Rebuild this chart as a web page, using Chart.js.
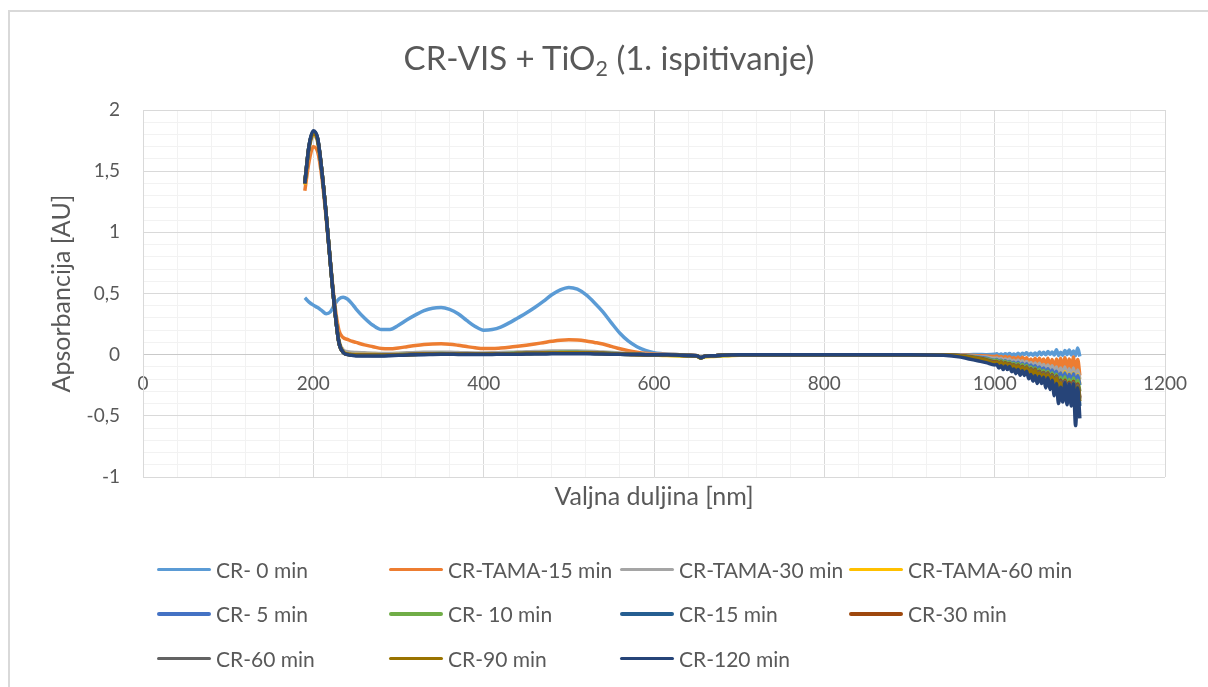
<!DOCTYPE html>
<html>
<head>
<meta charset="utf-8">
<script src="https://cdn.jsdelivr.net/npm/chart.js@4.4.1/dist/chart.umd.min.js"></script>
<style>
  html, body { margin: 0; padding: 0; background: #fff; }
  body { width: 1208px; height: 687px; position: relative; overflow: hidden; font-family: Lato, "Open Sans", sans-serif; color: #595959; }
  #frame { position: absolute; left: 8px; top: 10px; width: 1300px; height: 800px; border-left: 2px solid #d9d9d9; border-top: 2px solid #d9d9d9; }
  #c { position: absolute; left: 0; top: 0; }
  #title { position: absolute; left: 0; width: 1218px; top: 38px; line-height: 38px; text-align: center; font-size: 33px; }
  #title sub { font-size: 0.65em; vertical-align: -0.3em; line-height: 0; }
  #legend { position: absolute; left: 157px; top: 547px; display: grid; grid-template-columns: 232px 231px 229px 240px; grid-auto-rows: 44.5px; font-size: 21px; }
  #legend .item { display: flex; align-items: center; white-space: nowrap; }
  #legend .sw { width: 54px; height: 3.5px; border-radius: 2px; margin-right: 5px; }
</style>
</head>
<body>
<div id="frame"></div>
<canvas id="c" width="1208" height="687"></canvas>
<div id="title">CR-VIS + TiO<sub>2</sub> (1. ispitivanje)</div>
<div id="legend"></div>
<script>
// ******************************************************** DATA

var wavelengths = [
  190, 195, 200, 205, 210, 215, 220, 225, 230, 235, 240, 245, 250,
  260, 270, 280, 290, 300, 310, 320, 330, 340, 350, 360, 370, 380, 390, 400, 410, 420, 430,
  440, 450, 460, 470, 480, 490, 500, 510, 520, 530, 540, 550, 560, 570, 580, 590, 600, 610,
  620, 630, 640, 650,
  655, 660, 670, 680, 700, 750, 800, 850, 900, 940,
  960, 970, 980, 990, 1000,
  1002.5, 1005, 1007.5, 1010, 1012.5, 1015, 1017.5, 1020, 1022.5, 1025,
  1027.5, 1030, 1032.5, 1035, 1037.5, 1040, 1042.5, 1045, 1047.5, 1050,
  1052.5, 1055, 1057.5, 1060, 1062.5, 1065, 1067.5, 1070, 1072.5, 1075,
  1077.5, 1080, 1082.5, 1085, 1087.5, 1090, 1092.5, 1095, 1097.5, 1100
];

var seriesNames = ["CR- 0 min", "CR-TAMA-15 min", "CR-TAMA-30 min", "CR-TAMA-60 min",
  "CR- 5 min", "CR- 10 min", "CR-15 min", "CR-30 min", "CR-60 min", "CR-90 min", "CR-120 min"];
var seriesColors = ["#5b9bd5", "#ed7d31", "#a5a5a5", "#ffc000", "#4472c4", "#70ad47",
  "#255e91", "#9e480e", "#636363", "#997300", "#264478"];

var cr0 = [
  0.465, 0.43, 0.405, 0.385, 0.36, 0.335, 0.35, 0.41, 0.455, 0.47, 0.455, 0.42, 0.375,
  0.30, 0.24, 0.205, 0.205, 0.24, 0.285, 0.325, 0.36, 0.38, 0.385, 0.37, 0.335, 0.28, 0.23, 0.2,
  0.205, 0.225, 0.26, 0.3, 0.34, 0.385, 0.435, 0.49, 0.53, 0.55, 0.535, 0.49, 0.425, 0.35, 0.26,
  0.175, 0.11, 0.065, 0.035, 0.016, 0.008, 0.003, 0, -0.003, -0.006,
  -0.025, -0.012, -0.008, -0.004, 0, 0, 0, 0, 0, 0,
  0, 0, 0.002, 0, 0.003,
  0.007, -0.004, 0.005, -0.006, 0.008, -0.002, 0.01, -0.004, 0.005, -0.005,
  0.011, -0.004, 0.012, 0.001, 0.015, -0.003, 0.012, -0.004, 0.014, -0.005,
  0.022, 0, 0.02, -0.001, 0.025, 0.003, 0.022, -0.003, 0.04, -0.006,
  0.02, -0.005, 0.035, 0, 0.038, -0.002, 0.03, -0.008, 0.055, -0.015
];
var tama15 = [
  1.34, 1.58, 1.7, 1.66, 1.45, 1.12, 0.76, 0.42, 0.2, 0.14, 0.125, 0.11, 0.1,
  0.08, 0.065, 0.05, 0.048, 0.055, 0.065, 0.075, 0.083, 0.088, 0.09, 0.086, 0.077, 0.066, 0.056, 0.05,
  0.05, 0.054, 0.06, 0.068, 0.077, 0.087, 0.098, 0.109, 0.118, 0.122, 0.12, 0.112, 0.1, 0.087, 0.068,
  0.048, 0.032, 0.02, 0.011, 0.006, 0.003, 0.001, -0.001, -0.004, -0.007,
  -0.024, -0.012, -0.008, -0.004, 0, 0, 0, 0, 0, 0,
  -0.003, -0.005, -0.008, -0.01, -0.015,
  -0.011, -0.024, -0.015, -0.028, -0.016, -0.027, -0.018, -0.034, -0.024, -0.045,
  -0.02, -0.045, -0.022, -0.042, -0.025, -0.06, -0.035, -0.068, -0.03, -0.075,
  -0.03, -0.07, -0.035, -0.09, -0.03, -0.1, -0.04, -0.12, -0.035, -0.14,
  -0.03, -0.13, -0.025, -0.16, -0.035, -0.15, -0.02, -0.19, -0.04, -0.17
];
var tama30 = [
  1.4, 1.68, 1.79, 1.74, 1.49, 1.15, 0.76, 0.39, 0.12, 0.04, 0.025, 0.02, 0.018,
  0.015, 0.012, 0.01, 0.01, 0.012, 0.015, 0.017, 0.019, 0.02, 0.02, 0.019, 0.017, 0.015, 0.014, 0.014,
  0.015, 0.017, 0.019, 0.021, 0.023, 0.025, 0.027, 0.029, 0.03, 0.03, 0.03, 0.028, 0.025, 0.021, 0.017,
  0.013, 0.009, 0.006, 0.003, 0.001, 0, -0.002, -0.004, -0.006, -0.008,
  -0.025, -0.012, -0.008, -0.004, 0, 0, 0, 0, 0, 0,
  -0.005, -0.01, -0.015, -0.02, -0.03,
  -0.027, -0.04, -0.03, -0.046, -0.035, -0.045, -0.036, -0.056, -0.045, -0.068,
  -0.044, -0.07, -0.05, -0.075, -0.055, -0.09, -0.065, -0.1, -0.068, -0.108,
  -0.07, -0.11, -0.08, -0.125, -0.085, -0.13, -0.09, -0.15, -0.1, -0.17,
  -0.11, -0.17, -0.1, -0.19, -0.115, -0.19, -0.11, -0.21, -0.125, -0.2
];
var tama60 = [
  1.39, 1.69, 1.8, 1.75, 1.5, 1.15, 0.75, 0.38, 0.11, 0.025, 0.008, 0.004, 0.002,
  0.002, 0.001, 0, 0, 0.001, 0.002, 0.004, 0.005, 0.006, 0.007, 0.006, 0.005, 0.004, 0.004, 0.004,
  0.005, 0.006, 0.007, 0.008, 0.009, 0.01, 0.011, 0.012, 0.013, 0.013, 0.013, 0.012, 0.01, 0.008, 0.006,
  0.004, 0.002, 0, -0.002, -0.004, -0.006, -0.008, -0.01, -0.012, -0.014,
  -0.028, -0.018, -0.014, -0.01, -0.004, -0.001, 0, 0, 0, -0.002,
  -0.008, -0.015, -0.025, -0.035, -0.05,
  -0.045, -0.06, -0.048, -0.066, -0.055, -0.068, -0.058, -0.08, -0.068, -0.095,
  -0.068, -0.1, -0.075, -0.105, -0.08, -0.125, -0.095, -0.135, -0.1, -0.145,
  -0.105, -0.15, -0.115, -0.165, -0.12, -0.17, -0.13, -0.19, -0.14, -0.21,
  -0.15, -0.21, -0.14, -0.23, -0.155, -0.23, -0.15, -0.25, -0.165, -0.24
];
var cr5 = [
  1.4, 1.7, 1.81, 1.76, 1.5, 1.15, 0.75, 0.38, 0.1, 0.02, 0.004, 0.001, 0,
  0, 0, -0.002, -0.002, 0, 0.002, 0.004, 0.006, 0.007, 0.008, 0.007, 0.006, 0.005, 0.005, 0.005,
  0.006, 0.007, 0.008, 0.01, 0.011, 0.012, 0.014, 0.015, 0.016, 0.017, 0.017, 0.016, 0.014, 0.012, 0.009,
  0.006, 0.004, 0.002, 0, -0.001, -0.002, -0.003, -0.005, -0.006, -0.008,
  -0.025, -0.012, -0.008, -0.004, 0, 0, 0, 0, 0, -0.001,
  -0.006, -0.012, -0.02, -0.03, -0.045,
  -0.04, -0.056, -0.045, -0.062, -0.05, -0.065, -0.055, -0.075, -0.062, -0.09,
  -0.063, -0.095, -0.07, -0.1, -0.075, -0.115, -0.085, -0.125, -0.09, -0.13,
  -0.1, -0.14, -0.11, -0.16, -0.115, -0.165, -0.125, -0.185, -0.135, -0.21,
  -0.15, -0.22, -0.15, -0.24, -0.16, -0.24, -0.155, -0.26, -0.17, -0.25
];
var cr10 = [
  1.41, 1.71, 1.82, 1.76, 1.5, 1.15, 0.75, 0.38, 0.1, 0.02, 0.003, 0, 0,
  0, -0.002, -0.003, -0.002, 0, 0.002, 0.004, 0.006, 0.008, 0.009, 0.008, 0.007, 0.006, 0.005, 0.005,
  0.006, 0.008, 0.01, 0.012, 0.013, 0.015, 0.016, 0.018, 0.019, 0.02, 0.019, 0.018, 0.016, 0.013, 0.01,
  0.007, 0.004, 0.002, 0, -0.001, -0.003, -0.005, -0.007, -0.009, -0.011,
  -0.027, -0.015, -0.011, -0.007, -0.002, 0, 0, 0, 0, -0.002,
  -0.008, -0.015, -0.025, -0.035, -0.05,
  -0.045, -0.062, -0.05, -0.07, -0.056, -0.072, -0.062, -0.085, -0.07, -0.1,
  -0.072, -0.108, -0.08, -0.115, -0.088, -0.135, -0.1, -0.145, -0.108, -0.15,
  -0.12, -0.165, -0.13, -0.19, -0.135, -0.2, -0.15, -0.22, -0.16, -0.245,
  -0.185, -0.26, -0.18, -0.28, -0.2, -0.28, -0.19, -0.3, -0.21, -0.3
];
var cr15 = [
  1.4, 1.71, 1.82, 1.77, 1.5, 1.15, 0.75, 0.38, 0.1, 0.02, 0.002, -0.002, -0.005,
  -0.006, -0.007, -0.007, -0.005, -0.003, -0.001, 0.001, 0.003, 0.004, 0.005, 0.005, 0.004, 0.003, 0.003, 0.003,
  0.004, 0.005, 0.006, 0.007, 0.008, 0.009, 0.01, 0.011, 0.012, 0.012, 0.012, 0.011, 0.009, 0.007, 0.005,
  0.003, 0.002, 0.001, 0, -0.001, -0.002, -0.003, -0.005, -0.006, -0.008,
  -0.025, -0.012, -0.008, -0.004, 0, 0, 0, 0, 0, -0.002,
  -0.009, -0.018, -0.03, -0.05, -0.07,
  -0.064, -0.082, -0.07, -0.09, -0.078, -0.094, -0.085, -0.108, -0.095, -0.125,
  -0.1, -0.132, -0.108, -0.14, -0.11, -0.16, -0.125, -0.17, -0.135, -0.185,
  -0.145, -0.2, -0.15, -0.23, -0.16, -0.24, -0.17, -0.29, -0.18, -0.32,
  -0.21, -0.33, -0.22, -0.37, -0.23, -0.38, -0.22, -0.43, -0.25, -0.42
];
var cr30 = [
  1.4, 1.7, 1.81, 1.76, 1.5, 1.15, 0.75, 0.38, 0.1, 0.02, 0.003, 0, -0.002,
  -0.003, -0.004, -0.004, -0.003, -0.001, 0.001, 0.003, 0.005, 0.006, 0.007, 0.007, 0.006, 0.005, 0.004, 0.004,
  0.005, 0.006, 0.008, 0.009, 0.011, 0.012, 0.013, 0.015, 0.016, 0.016, 0.016, 0.015, 0.013, 0.011, 0.008,
  0.005, 0.003, 0.001, 0, -0.001, -0.002, -0.004, -0.005, -0.007, -0.009,
  -0.026, -0.013, -0.009, -0.005, -0.001, 0, 0, 0, 0, -0.002,
  -0.009, -0.017, -0.028, -0.042, -0.06,
  -0.055, -0.07, -0.06, -0.078, -0.066, -0.082, -0.072, -0.096, -0.082, -0.112,
  -0.085, -0.12, -0.095, -0.13, -0.1, -0.15, -0.115, -0.16, -0.12, -0.17,
  -0.135, -0.185, -0.145, -0.21, -0.15, -0.22, -0.165, -0.25, -0.175, -0.28,
  -0.21, -0.3, -0.21, -0.33, -0.225, -0.33, -0.22, -0.36, -0.24, -0.35
];
var cr60 = [
  1.41, 1.71, 1.82, 1.77, 1.5, 1.15, 0.75, 0.38, 0.1, 0.02, 0.002, -0.002, -0.004,
  -0.005, -0.006, -0.006, -0.004, -0.002, 0, 0.002, 0.004, 0.005, 0.006, 0.006, 0.005, 0.004, 0.003, 0.003,
  0.004, 0.005, 0.007, 0.008, 0.009, 0.011, 0.012, 0.013, 0.014, 0.014, 0.014, 0.013, 0.011, 0.009, 0.007,
  0.004, 0.002, 0.001, 0, -0.001, -0.002, -0.004, -0.005, -0.007, -0.009,
  -0.025, -0.012, -0.008, -0.004, 0, 0, 0, 0, 0, -0.002,
  -0.009, -0.018, -0.03, -0.045, -0.065,
  -0.06, -0.075, -0.064, -0.083, -0.07, -0.086, -0.077, -0.1, -0.087, -0.118,
  -0.09, -0.125, -0.1, -0.135, -0.105, -0.155, -0.12, -0.165, -0.125, -0.175,
  -0.14, -0.19, -0.15, -0.215, -0.155, -0.23, -0.17, -0.26, -0.18, -0.29,
  -0.22, -0.31, -0.22, -0.34, -0.235, -0.34, -0.23, -0.37, -0.25, -0.36
];
var cr90 = [
  1.4, 1.7, 1.81, 1.76, 1.5, 1.15, 0.75, 0.38, 0.1, 0.02, 0.002, -0.001, -0.003,
  -0.004, -0.005, -0.005, -0.004, -0.002, 0, 0.002, 0.004, 0.005, 0.006, 0.006, 0.005, 0.004, 0.004, 0.004,
  0.005, 0.006, 0.007, 0.009, 0.01, 0.011, 0.013, 0.014, 0.015, 0.015, 0.015, 0.014, 0.012, 0.01, 0.007,
  0.005, 0.003, 0.001, 0, -0.001, -0.002, -0.004, -0.005, -0.007, -0.009,
  -0.025, -0.012, -0.008, -0.004, 0, 0, 0, 0, 0, -0.002,
  -0.01, -0.019, -0.032, -0.048, -0.068,
  -0.062, -0.078, -0.067, -0.086, -0.073, -0.09, -0.08, -0.104, -0.091, -0.124,
  -0.095, -0.13, -0.105, -0.142, -0.11, -0.165, -0.125, -0.175, -0.13, -0.185,
  -0.15, -0.2, -0.16, -0.23, -0.165, -0.245, -0.18, -0.275, -0.19, -0.31,
  -0.23, -0.33, -0.235, -0.36, -0.25, -0.36, -0.245, -0.39, -0.265, -0.38
];
var cr120 = [
  1.4, 1.71, 1.83, 1.77, 1.5, 1.15, 0.75, 0.38, 0.1, 0.02, 0, -0.005, -0.01,
  -0.01, -0.01, -0.01, -0.008, -0.005, -0.003, 0, 0, 0.002, 0.003, 0.003, 0.002, 0.002, 0.002, 0.002,
  0.002, 0.003, 0.003, 0.004, 0.005, 0.005, 0.006, 0.007, 0.007, 0.008, 0.008, 0.007, 0.006, 0.005, 0.004,
  0.003, 0.002, 0.001, 0, 0, 0, -0.002, -0.004, -0.006, -0.008,
  -0.025, -0.012, -0.008, -0.004, 0, 0, 0, 0, 0, -0.005,
  -0.02, -0.035, -0.05, -0.065, -0.085,
  -0.08, -0.11, -0.091, -0.122, -0.093, -0.122, -0.097, -0.139, -0.118, -0.155,
  -0.121, -0.168, -0.131, -0.17, -0.135, -0.197, -0.163, -0.216, -0.173, -0.235,
  -0.178, -0.236, -0.184, -0.273, -0.188, -0.285, -0.21, -0.336, -0.236, -0.4,
  -0.266, -0.387, -0.23, -0.41, -0.24, -0.42, -0.24, -0.58, -0.27, -0.52
];

var seriesValues = [cr0, tama15, tama30, tama60, cr5, cr10, cr15, cr30, cr60, cr90, cr120];

// ******************************************************** CHART

seriesValues.forEach(function (vals, i) {
  if (vals.length !== wavelengths.length) throw new Error(seriesNames[i] + " has " + vals.length + " values");
});

var isMajor = function (v, step) { return Math.abs(v / step - Math.round(v / step)) < 1e-6; };
var textColor = "#595959";

var datasets = seriesValues.map(function (vals, i) {
  return {
    label: seriesNames[i],
    data: wavelengths.map(function (w, j) { return { x: w, y: vals[j] }; }),
    borderColor: seriesColors[i],
    backgroundColor: seriesColors[i],
    borderWidth: 3.5,
    pointRadius: 0,
    tension: 0.3,
    cubicInterpolationMode: "monotone",
    order: seriesValues.length - 1 - i
  };
});

var config = {
  type: "line",
  data: { datasets: datasets },
  options: {
    responsive: false,
    animation: false,
    devicePixelRatio: 1,
    layout: { padding: { left: 47, top: 110, right: 43, bottom: 170 } },
    plugins: { legend: { display: false }, title: { display: false }, tooltip: { enabled: false } },
    scales: {
      x: {
        type: "linear", min: 0, max: 1200,
        position: { y: 0 },
        ticks: {
          stepSize: 40, autoSkip: false, maxRotation: 0, padding: 18,
          color: textColor, font: { family: "Lato", size: 19 },
          callback: function (v) { return isMajor(v, 200) ? String(v) : ""; }
        },
        grid: {
          drawTicks: false, lineWidth: 1,
          color: function (ctx) { return ctx.tick && isMajor(ctx.tick.value, 200) ? "#d9d9d9" : "#f2f2f2"; }
        },
        border: { display: true, color: "#c9c9c9", width: 1 }
      },
      xTitle: {
        type: "linear", min: 0, max: 1200, position: "bottom",
        ticks: { display: false }, grid: { display: false }, border: { display: false },
        title: { display: true, text: "Valjna duljina [nm]", color: textColor,
          font: { family: "Lato", size: 25 }, padding: { top: 0, bottom: 5 } },
        afterFit: function (scale) { scale.height = 40; }
      },
      y: {
        type: "linear", min: -1, max: 2, position: "left",
        ticks: {
          stepSize: 0.1, autoSkip: false, padding: 23,
          color: textColor, font: { family: "Lato", size: 19 },
          callback: function (v) { return isMajor(v, 0.5) ? String(Math.round(v * 10) / 10).replace(".", ",") : ""; }
        },
        grid: {
          drawTicks: false, lineWidth: 1,
          color: function (ctx) { return ctx.tick && isMajor(ctx.tick.value, 0.5) ? "#d9d9d9" : "#f2f2f2"; }
        },
        border: { display: true, color: "#d9d9d9", width: 1 },
        title: { display: true, text: "Apsorbancija [AU]", color: textColor,
          font: { family: "Lato", size: 25 }, padding: { top: 0, bottom: 0 } },
        afterFit: function (scale) { scale.width = 96; }
      }
    }
  }
};

var _ctxc = document.getElementById("c").getContext("2d");
window.myChart = new Chart(_ctxc, config);

// legend as html, in series order
var legendBox = document.getElementById("legend");
seriesNames.forEach(function (name, i) {
  var item = document.createElement("div");
  item.className = "item";
  var sw = document.createElement("span");
  sw.className = "sw";
  sw.style.background = seriesColors[i];
  item.appendChild(sw);
  item.appendChild(document.createTextNode(name));
  legendBox.appendChild(item);
});
</script>
</body>
</html>
